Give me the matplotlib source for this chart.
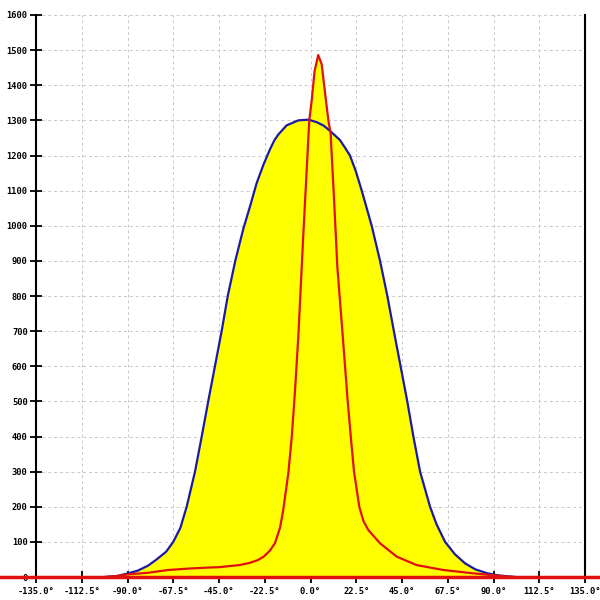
import matplotlib
matplotlib.use("Agg")
import matplotlib.pyplot as plt

# Blue series (angle in degrees, value)
blue_x = [-101, -95, -90, -85, -80, -75.7, -71, -67.5, -64, -60.9, -56.8, -53.5,
          -50.3, -47, -43.7, -40.7, -37, -33, -29.8, -26.5, -23.2, -19.9, -17.8, -15.8,
          -11.7, -6, -1, 3, 6.5, 9.6, 14.5, 17, 19.4, 22.3, 25.2, 30.1, 34.2, 37.8,
          41.0, 44.3, 47.6, 50.6, 53.9, 58.8, 62, 66.2, 71, 76, 81, 86.7, 92, 97, 101]
blue_y = [0, 3, 10, 18, 32, 50, 72, 100, 140, 200, 300, 400,
          500, 600, 700, 800, 900, 992, 1054, 1121, 1173, 1218, 1243, 1260,
          1286, 1300, 1302, 1295, 1285, 1270, 1244, 1222, 1200, 1155, 1100, 1000, 900, 800,
          700, 600, 500, 400, 300, 200, 150, 100, 65, 39, 22, 11, 5, 2, 0]

# Red series (angle in degrees, value)
red_x = [-101, -95, -90, -80, -70, -60, -50, -45, -35, -30, -26, -23, -20, -17.5,
         -15, -13.4, -10.9, -9.2, -7.6, -6, -3.5, -0.6, 0.6, 2, 3.8, 5.5, 7.6,
         8.8, 9.9, 11.6, 13.2, 15.8, 18.3, 19.8, 21.4, 24, 26, 28.4, 34.2, 42.4,
         52.2, 65.3, 80, 90, 95, 100]
red_y = [0, 3, 7.5, 12, 20, 24, 27, 28, 34, 40, 48, 58, 75, 96,
         140, 191, 296, 400, 532, 684, 979, 1300, 1357, 1440, 1486, 1460, 1357,
         1300, 1262, 1073, 883, 690, 500, 400, 300, 200, 160, 134, 96, 58,
         34, 20, 10.5, 5, 2, 0]

x_ticks = [-135, -112.5, -90, -67.5, -45, -22.5, 0, 22.5, 45, 67.5, 90, 112.5, 135]
x_tick_labels = [f"{t:.1f}°" for t in x_ticks]
y_ticks = list(range(0, 1601, 100))

fig = plt.figure(figsize=(6, 6), dpi=100)
ax = fig.add_axes([0.06, 0.0383, 0.915, 0.9367])

ax.fill_between(blue_x, blue_y, 0, color="#ffff00", lw=0, zorder=2)
ax.fill_between(red_x, red_y, 0, color="#ffff00", lw=0, zorder=2)
ax.plot(blue_x, blue_y, color="#1a1aa8", lw=1.6, zorder=3)
ax.plot(red_x, red_y, color="#e01010", lw=1.6, zorder=4)
ax.axhline(0, xmin=-0.1, xmax=1.1, color="#e01010", lw=2.5, clip_on=False, zorder=5)

ax.set_xlim(-135, 135)
ax.set_ylim(0, 1600)
ax.set_xticks(x_ticks)
ax.set_xticklabels(x_tick_labels)
ax.set_yticks(y_ticks)
ax.set_yticklabels([str(v) for v in y_ticks])

ax.grid(True, color="#c8c8c8", linestyle=(0, (3, 3)), lw=0.7, zorder=1)
ax.set_axisbelow(True)

ax.spines["top"].set_visible(False)
ax.spines["bottom"].set_visible(False)
for side in ["left", "right"]:
    ax.spines[side].set_color("black")
    ax.spines[side].set_linewidth(1.5)

ax.tick_params(axis="both", direction="inout", length=8, width=1.3, color="black",
               labelsize=6.3, pad=2)
ax.tick_params(axis="x", pad=3)
for lab in ax.get_xticklabels() + ax.get_yticklabels():
    lab.set_fontfamily("DejaVu Sans Mono")
    lab.set_fontweight("bold")

fig.savefig("out.png", dpi=100)
